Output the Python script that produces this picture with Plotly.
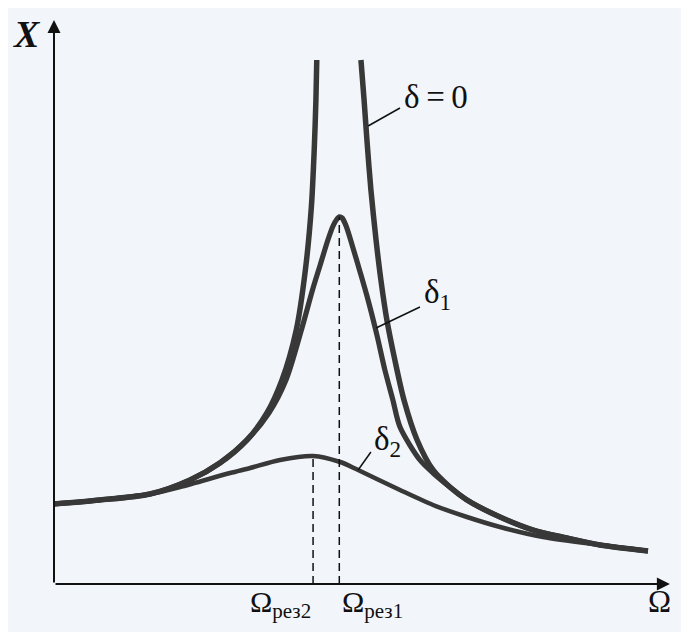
import plotly.graph_objects as go

# ---- data (Omega/omega0, X/Xst) ----
omega_d0_left = [0.0, 0.161, 0.337, 0.477, 0.582, 0.677, 0.747, 0.800, 0.850, 0.882, 0.903, 0.913, 0.919, 0.922]
x_d0_left = [1.00, 1.05, 1.125, 1.30, 1.5125, 1.80, 2.1375, 2.55, 3.175, 3.925, 4.7125, 5.425, 6.05, 6.55]

omega_d0_right = [1.077, 1.088, 1.098, 1.112, 1.130, 1.147, 1.168, 1.196, 1.228, 1.274, 1.330, 1.389,
                  1.449, 1.565, 1.681, 1.800, 1.916, 2.084]
x_d0_right = [6.55, 6.05, 5.55, 4.925, 4.30, 3.80, 3.30, 2.80, 2.30, 1.80, 1.425, 1.2125,
              1.05, 0.8375, 0.675, 0.575, 0.4875, 0.4125]

omega_d1 = [0.0, 0.161, 0.337, 0.477, 0.582, 0.677, 0.754, 0.814, 0.868, 0.907, 0.934, 0.961, 0.979,
            0.993, 1.001, 1.011, 1.025, 1.046, 1.074, 1.102, 1.133, 1.161, 1.189, 1.214, 1.284, 1.330,
            1.389, 1.449, 1.565, 1.681, 1.800, 1.916, 2.084]
x_d1 = [1.00, 1.05, 1.125, 1.30, 1.5125, 1.80, 2.1375, 2.55, 3.175, 3.675, 3.9875, 4.30, 4.475,
        4.5625, 4.59, 4.575, 4.475, 4.2375, 3.90, 3.55, 3.1125, 2.675, 2.30, 1.9625, 1.55, 1.3875,
        1.2125, 1.05, 0.8375, 0.675, 0.575, 0.4875, 0.4125]

omega_d2 = [0.0, 0.161, 0.337, 0.442, 0.618, 0.688, 0.793, 0.909, 1.004, 1.067, 1.214, 1.330, 1.449,
            1.565, 1.716, 1.916, 2.084]
x_d2 = [1.00, 1.05, 1.125, 1.2125, 1.3875, 1.45, 1.55, 1.60, 1.525, 1.425, 1.175, 0.9875, 0.8375,
        0.7125, 0.5875, 0.4875, 0.4125]

omega_res1 = 1.001
omega_res2 = 0.909
peak_res1 = 4.59
peak_res2 = 1.60

labels = {"d0": "δ\u2009=\u20090", "d1": "δ<sub>1</sub>", "d2": "δ<sub>2</sub>",
          "res1": "Ω<sub>рез1</sub>", "res2": "Ω<sub>рез2</sub>", "xaxis": "Ω", "yaxis": "<b><i>X</i></b>"}

# ---- figure ----
BG = "#f2f6fa"
INK = "#383838"
FONT = "Liberation Serif"

fig = go.Figure()

def curve(width):
    return dict(mode="lines", line=dict(color=INK, width=width, shape="spline", smoothing=0.8),
                hoverinfo="skip", showlegend=False)

fig.add_trace(go.Scatter(x=omega_d2, y=x_d2, **curve(4.5)))
fig.add_trace(go.Scatter(x=omega_d1, y=x_d1, **curve(5.2)))
fig.add_trace(go.Scatter(x=omega_d0_left, y=x_d0_left, **curve(5.5)))
fig.add_trace(go.Scatter(x=omega_d0_right, y=x_d0_right, **curve(5.5)))

# dashed resonance lines
for om, pk in [(omega_res1, peak_res1), (omega_res2, peak_res2)]:
    fig.add_trace(go.Scatter(x=[om, om], y=[0, pk], mode="lines",
                             line=dict(color="#111", width=1.5, dash="8px,5px"),
                             hoverinfo="skip", showlegend=False))

# axes with arrows
arrow = dict(showarrow=True, arrowhead=2, arrowsize=1.3, arrowwidth=2, arrowcolor="#111",
             axref="x", ayref="y", text="", standoff=0)
fig.add_annotation(x=0, y=7.05, ax=0, ay=0, **arrow)
fig.add_annotation(x=2.161, y=0, ax=0, ay=0, **arrow)

# leader lines
for x0, y0, x1, y1 in [(1.102, 5.725, 1.214, 5.95), (1.130, 3.20, 1.284, 3.4625), (1.067, 1.425, 1.112, 1.65)]:
    fig.add_shape(type="line", x0=x0, y0=y0, x1=x1, y1=y1, line=dict(color="#111", width=1.5))

txt = dict(showarrow=False, font=dict(family=FONT, size=33, color="#111"))
fig.add_annotation(x=1.22, y=6.09, text=labels["d0"], xanchor="left", yanchor="middle", **txt)
fig.add_annotation(x=1.29, y=3.62, text=labels["d1"], xanchor="left", yanchor="middle", **txt)
fig.add_annotation(x=1.115, y=1.78, text=labels["d2"], xanchor="left", yanchor="middle", **txt)
fig.add_annotation(x=-0.094, y=6.875, text=labels["yaxis"], xanchor="center", yanchor="middle",
                   showarrow=False, font=dict(family=FONT, size=38, color="#111"))
fig.add_annotation(x=2.126, y=-0.22, text=labels["xaxis"], xanchor="center", yanchor="middle",
                   showarrow=False, font=dict(family=FONT, size=31, color="#111"))
fig.add_annotation(x=0.68, y=-0.25, text=labels["res2"], xanchor="left", yanchor="middle",
                   showarrow=False, font=dict(family=FONT, size=30, color="#111"))
fig.add_annotation(x=1.005, y=-0.25, text=labels["res1"], xanchor="left", yanchor="middle",
                   showarrow=False, font=dict(family=FONT, size=30, color="#111"))

# page body has an 8px margin: shift the ranges so the drawing sits where the reference has it
OFF = 8
fig.update_xaxes(range=[(OFF - 54) / 285, (OFF + 689 - 54) / 285], visible=False, fixedrange=True)
fig.update_yaxes(range=[(584 - OFF - 632) / 80, (584 - OFF) / 80], visible=False, fixedrange=True)
fig.update_layout(width=689, height=632, margin=dict(l=0, r=0, t=0, b=0),
                  paper_bgcolor=BG, plot_bgcolor=BG, showlegend=False)

fig.write_html("out.html")
